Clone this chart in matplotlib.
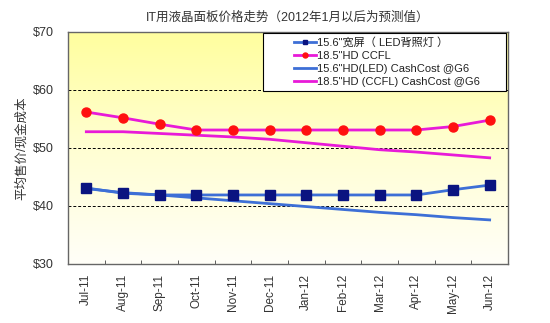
import matplotlib
matplotlib.use("Agg")
import matplotlib.pyplot as plt
import numpy as np
from matplotlib.colors import LinearSegmentedColormap
from matplotlib.patches import Rectangle

plt.rcParams["font.family"] = ["Liberation Sans", "Noto Sans CJK SC", "DejaVu Sans"]

months = ["Jul-11", "Aug-11", "Sep-11", "Oct-11", "Nov-11", "Dec-11",
          "Jan-12", "Feb-12", "Mar-12", "Apr-12", "May-12", "Jun-12"]

led_price = [43.1, 42.2, 41.9, 41.9, 41.9, 41.9, 41.9, 41.9, 41.9, 41.9, 42.8, 43.6]
ccfl_price = [56.2, 55.2, 54.1, 53.1, 53.1, 53.1, 53.1, 53.1, 53.1, 53.1, 53.7, 54.8]
led_cost = [43.0, 42.3, 41.9, 41.4, 40.9, 40.4, 39.9, 39.4, 38.9, 38.5, 38.0, 37.6]
ccfl_cost = [52.8, 52.8, 52.5, 52.2, 51.9, 51.5, 50.9, 50.3, 49.7, 49.3, 48.8, 48.3]

labels = ["15.6\"宽屏（ LED背照灯 ）", "18.5\"HD CCFL",
          "15.6\"HD(LED) CashCost @G6", "18.5\"HD (CCFL) CashCost @G6"]

fig = plt.figure(figsize=(5.5, 3.23), dpi=100)
ax = fig.add_axes([0.1236, 0.1827, 0.80, 0.7183])

x = np.arange(len(months))
ax.set_xlim(-0.5, len(months) - 0.5)
ax.set_ylim(30, 70)

# pale yellow fading to white toward the bottom
cmap = LinearSegmentedColormap.from_list("bg", ["#fffff8", "#fffed2", "#ffff9e"])
grad = np.linspace(0, 1, 256).reshape(-1, 1)
ax.imshow(grad, cmap=cmap, aspect="auto", origin="lower",
          extent=[-0.5, len(months) - 0.5, 30, 70], zorder=0)

for yv in (40, 50, 60):
    ax.axhline(yv, color="black", lw=0.7, ls=(0, (3, 2)), zorder=1)

ax.plot(x, led_cost, color="#3d6fd6", lw=2, zorder=2, label=labels[2])
ax.plot(x, ccfl_cost, color="#e81ad8", lw=2, zorder=2, label=labels[3])
ax.plot(x, led_price, color="#3d6fd6", lw=2, marker="s", ms=6.5,
        mfc="#0a1480", mec="#0a1480", zorder=3, label=labels[0])
ax.plot(x, ccfl_price, color="#e81ad8", lw=2, marker="o", ms=6.5,
        mfc="#ff1010", mec="#ff1010", zorder=3, label=labels[1])

ax.set_xticks(x)
ax.set_xticklabels(months, rotation=90, fontsize=8.5, color="#333333")
ax.tick_params(axis="x", which="major", length=0, pad=7)
ax.set_xticks(np.arange(-0.5, len(months) + 0.5, 1), minor=True)
ax.tick_params(axis="x", which="minor", direction="in", length=3, color="#444444")

ax.set_yticks([30, 40, 50, 60, 70])
ax.set_yticklabels(["$30", "$40", "$50", "$60", "$70"], fontsize=9, color="#333333")
ax.tick_params(axis="y", length=0, pad=10)
ax.set_ylabel("平均售价/现金成本", fontsize=9, color="#333333", labelpad=4)

for s in ax.spines.values():
    s.set_color("#666666")
    s.set_linewidth(1)

ax.set_title("IT用液晶面板价格走势（2012年1月以后为预测值）", fontsize=9,
             color="#333333", pad=8)

# legend box spans most of the upper right, entries centred inside it
box = Rectangle((0.443, 0.745), 0.552, 0.25, transform=ax.transAxes,
                facecolor="white", edgecolor="black", lw=0.8, zorder=5)
ax.add_patch(box)

handles, labs = ax.get_legend_handles_labels()
order = [2, 3, 0, 1]
leg = ax.legend([handles[i] for i in order], [labs[i] for i in order],
                loc="center", bbox_to_anchor=(0.725, 0.87), fontsize=8,
                frameon=False, handlelength=2.0, handletextpad=0.1,
                labelspacing=0.28, borderpad=0.0, markerscale=0.55)
leg.set_zorder(6)
for t in leg.get_texts():
    t.set_color("#222222")

fig.savefig("out.png", dpi=100, facecolor="white")
